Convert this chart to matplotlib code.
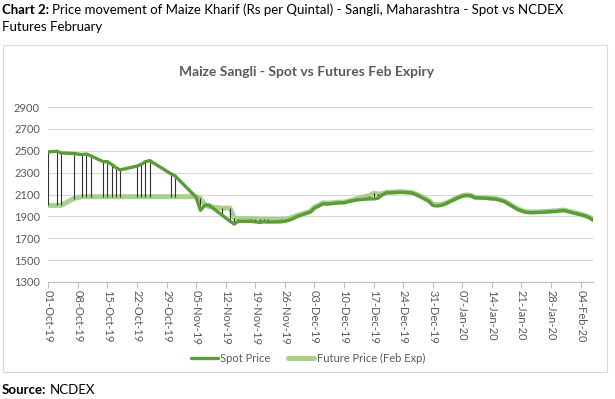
import pandas as pd
import matplotlib.pyplot as plt
import matplotlib.dates as mdates
from matplotlib.patches import Rectangle

plt.rcParams['font.family'] = ['Lato', 'DejaVu Sans']

# trading days (NCDEX) with spot and Feb futures prices
dates = [
    '2019-10-01', '2019-10-03', '2019-10-04', '2019-10-07', '2019-10-09', '2019-10-10', '2019-10-11',
    '2019-10-14', '2019-10-15', '2019-10-16', '2019-10-17', '2019-10-18',
    '2019-10-22', '2019-10-23', '2019-10-24', '2019-10-25', '2019-10-30', '2019-10-31',
    '2019-11-05', '2019-11-06', '2019-11-07', '2019-11-08', '2019-11-11', '2019-11-13', '2019-11-14',
    '2019-11-15', '2019-11-18', '2019-11-19', '2019-11-20', '2019-11-21', '2019-11-22',
    '2019-11-25', '2019-11-26', '2019-11-27', '2019-11-28', '2019-11-29',
    '2019-12-02', '2019-12-03', '2019-12-04', '2019-12-05', '2019-12-06',
    '2019-12-09', '2019-12-10', '2019-12-11', '2019-12-12', '2019-12-13',
    '2019-12-16', '2019-12-17', '2019-12-18', '2019-12-19', '2019-12-20',
    '2019-12-23', '2019-12-24', '2019-12-26', '2019-12-27', '2019-12-30', '2019-12-31',
    '2020-01-01', '2020-01-02', '2020-01-03', '2020-01-06', '2020-01-07', '2020-01-08',
    '2020-01-09', '2020-01-10', '2020-01-13', '2020-01-14', '2020-01-15', '2020-01-16',
    '2020-01-17', '2020-01-20', '2020-01-21', '2020-01-22', '2020-01-23', '2020-01-24',
    '2020-01-27', '2020-01-28', '2020-01-29', '2020-01-30', '2020-01-31',
    '2020-02-03', '2020-02-04', '2020-02-05', '2020-02-06', '2020-02-07',
]
spot = [
    2490, 2495, 2480, 2475, 2465, 2470, 2455,
    2400, 2400, 2375, 2345, 2325,
    2360, 2375, 2400, 2410, 2290, 2270,
    2075, 1955, 2000, 2005, 1915, 1856, 1830,
    1855, 1855, 1850, 1845, 1850, 1848,
    1850, 1855, 1865, 1880, 1900,
    1940, 1975, 1995, 2015, 2013,
    2025, 2025, 2035, 2043, 2050,
    2060, 2060, 2065, 2095, 2115,
    2120, 2120, 2115, 2100, 2040, 2000,
    1995, 2000, 2015, 2070, 2085, 2092,
    2088, 2070, 2065, 2060, 2058, 2048,
    2035, 1965, 1950, 1938, 1935, 1935,
    1940, 1945, 1945, 1950, 1955,
    1925, 1915, 1905, 1890, 1865,
]
futures = [
    2000, 2000, 2000, 2062, 2080, 2080, 2080,
    2080, 2080, 2080, 2080, 2080,
    2080, 2080, 2080, 2080, 2080, 2080,
    2080, 2065, 2010, 1990, 1975, 1975, 1885,
    1880, 1880, 1878, 1875, 1875, 1872,
    1872, 1875, 1882, 1895, 1910,
    1945, 1985, 2000, 2025, 2020,
    2030, 2030, 2040, 2050, 2062,
    2090, 2112, 2105, 2105, 2120,
    2125, 2125, 2120, 2105, 2050, 2012,
    2008, 2010, 2020, 2075, 2090, 2096,
    2092, 2075, 2070, 2066, 2062, 2052,
    2040, 1970, 1955, 1942, 1940, 1940,
    1945, 1948, 1950, 1955, 1958,
    1930, 1920, 1908, 1894, 1870,
]

x = pd.to_datetime(dates)
grey = '#595959'

fig = plt.figure(figsize=(6.15, 3.99), dpi=100)
ax = fig.add_axes([48.3 / 615, 1 - 282 / 399, 545 / 615, 175 / 399])

ax.plot(x, futures, color='#A9D18E', lw=3.6, solid_capstyle='round', label='Future Price (Feb Exp)', zorder=2)
ax.vlines(x, spot, futures, color='#333333', lw=0.8, zorder=3)
ax.plot(x, spot, color='#5B9B38', lw=2.4, solid_capstyle='round', label='Spot Price', zorder=4)

ax.set_ylim(1300, 2900)
ax.set_yticks(range(1300, 2901, 200))
ax.set_xlim(pd.Timestamp('2019-10-01'), pd.Timestamp('2020-02-07'))
ax.set_xticks(pd.date_range('2019-10-01', '2020-02-04', freq='7D'))
ax.xaxis.set_major_formatter(mdates.DateFormatter('%d-%b-%y'))
ax.tick_params(axis='x', rotation=-90, labelsize=8, colors=grey, length=4, width=0.8, pad=2)
ax.tick_params(axis='x', color='#BFBFBF')
ax.tick_params(axis='y', labelsize=8, colors=grey, length=0, pad=6)
ax.grid(axis='y', color='#D9D9D9', lw=0.8)
ax.set_axisbelow(True)
for s in ['top', 'right', 'left']:
    ax.spines[s].set_visible(False)
ax.spines['bottom'].set_color('#BFBFBF')

# chart box and title
fig.patches.append(Rectangle((3 / 615, 1 - 372 / 399), 604 / 615, 327 / 399, transform=fig.transFigure,
                             fill=False, edgecolor='#D9D9D9', lw=0.8))
fig.text(307 / 615, 1 - 72 / 399, 'Maize Sangli - Spot vs Futures Feb Expiry', ha='center', va='center',
         fontsize=10, fontweight='bold', color=grey)

h, l = ax.get_legend_handles_labels()
fig.legend(h[::-1], l[::-1], loc='center', bbox_to_anchor=(308 / 615, 1 - 358 / 399), ncol=2, frameon=False,
           fontsize=8, labelcolor=grey, handlelength=2.4, handletextpad=0.2, columnspacing=1.6)

# heading and source
r = fig.canvas.get_renderer()
t = fig.text(2 / 615, 1 - 10 / 399, 'Chart 2:', fontsize=9.5, fontweight='bold', va='center')
w = t.get_window_extent(r).width
fig.text((2 + w + 3) / 615, 1 - 10 / 399,
         'Price movement of Maize Kharif (Rs per Quintal) - Sangli, Maharashtra - Spot vs NCDEX',
         fontsize=9.5, va='center')
fig.text(2 / 615, 1 - 27 / 399, 'Futures February', fontsize=9.5, va='center')
t = fig.text(2 / 615, 1 - 390 / 399, 'Source:', fontsize=9.5, fontweight='bold', va='center')
w = t.get_window_extent(r).width
fig.text((2 + w + 3) / 615, 1 - 390 / 399, 'NCDEX', fontsize=9.5, va='center')

fig.savefig('out.png', dpi=100)
